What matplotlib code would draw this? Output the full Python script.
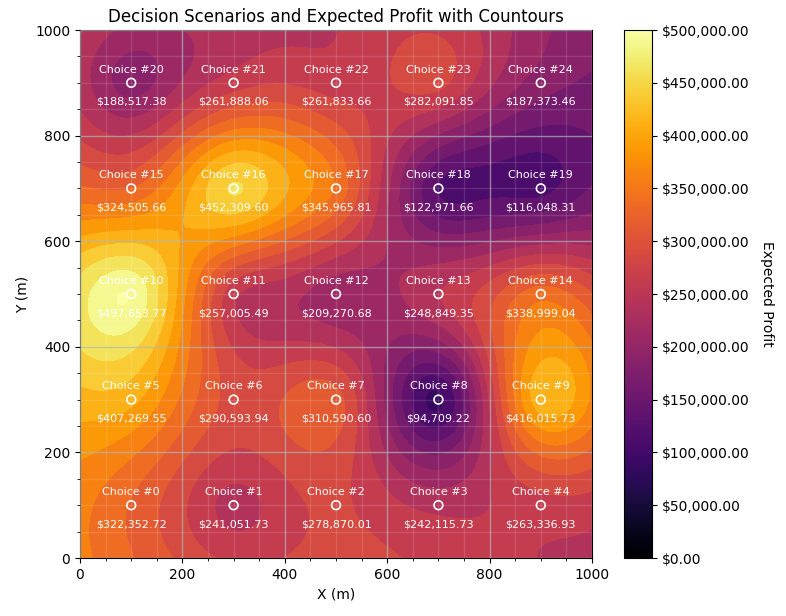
import numpy as np
import matplotlib
matplotlib.use('Agg')
import matplotlib.pyplot as plt
from matplotlib.ticker import MultipleLocator, StrMethodFormatter

# scenario locations and profit
x_pos = [100, 300, 500, 700, 900] * 5
y_pos = [100] * 5 + [300] * 5 + [500] * 5 + [700] * 5 + [900] * 5
profit = [322352.72, 241051.73, 278870.01, 242115.73, 263336.93,
          407269.55, 290593.94, 310590.60, 94709.22, 416015.73,
          497653.77, 257005.49, 209270.68, 248849.35, 338999.04,
          324505.66, 452309.60, 345965.81, 122971.66, 116048.31,
          188517.38, 261888.06, 261833.66, 282091.85, 187373.46]

x_pos = np.array(x_pos, dtype=float)
y_pos = np.array(y_pos, dtype=float)
profit = np.array(profit)

# smooth surface through the scenario values: linear trend plus matern 3/2 residual
length = 150.0
def kernel(ax_, ay_, bx_, by_):
    d = np.sqrt((ax_[:, None] - bx_[None, :])**2 + (ay_[:, None] - by_[None, :])**2)
    r = np.sqrt(3) * d / length
    return (1 + r) * np.exp(-r)

gx, gy = np.meshgrid(np.linspace(0, 1000, 250), np.linspace(0, 1000, 250))
A = np.column_stack([np.ones(25), x_pos, y_pos])
coef = np.linalg.lstsq(A, profit, rcond=None)[0]
w = np.linalg.solve(kernel(x_pos, y_pos, x_pos, y_pos) + 1e-6 * np.eye(25), profit - A @ coef)
gz = coef[0] + coef[1] * gx + coef[2] * gy + (kernel(gx.ravel(), gy.ravel(), x_pos, y_pos) @ w).reshape(gx.shape)

fig = plt.figure(figsize=(7.86, 6.16), dpi=100)
ax = fig.add_axes([80/786, 1 - 558/616, 512/786, 528/616])
cax = fig.add_axes([624/786, 1 - 558/616, 28/786, 528/616])

levels = np.linspace(0, 500000, 21)
cf = ax.contourf(gx, gy, gz, levels=levels, cmap='inferno', extend='both')

sm = plt.cm.ScalarMappable(norm=plt.Normalize(0, 500000), cmap='inferno')
cb = fig.colorbar(sm, cax=cax, format=StrMethodFormatter('${x:,.2f}'))
cb.set_ticks(np.arange(0, 500001, 50000))
cb.set_label('Expected Profit', rotation=270, labelpad=18)

ax.scatter(x_pos, y_pos, s=40, facecolors='none', edgecolors='white', linewidths=1.2, zorder=3)
for i in range(25):
    ax.text(x_pos[i], y_pos[i] + 25, f'Choice #{i}', color='white', fontsize=8,
            ha='center', va='center', zorder=4)
    ax.text(x_pos[i], y_pos[i] - 36, f'${profit[i]:,.2f}', color='white', fontsize=8,
            ha='center', va='center', zorder=4)

ax.set_xlim(0, 1000)
ax.set_ylim(0, 1000)
ax.xaxis.set_major_locator(MultipleLocator(200))
ax.yaxis.set_major_locator(MultipleLocator(200))
ax.xaxis.set_minor_locator(MultipleLocator(50))
ax.yaxis.set_minor_locator(MultipleLocator(50))
ax.grid(which='major', color='#b0b8b8', alpha=0.7, linewidth=1.0)
ax.grid(which='minor', color='white', alpha=0.13, linewidth=1.0)
ax.set_axisbelow(False)
ax.set_xlabel('X (m)')
ax.set_ylabel('Y (m)')
ax.set_title('Decision Scenarios and Expected Profit with Countours')

fig.savefig('out.png', dpi=100)
